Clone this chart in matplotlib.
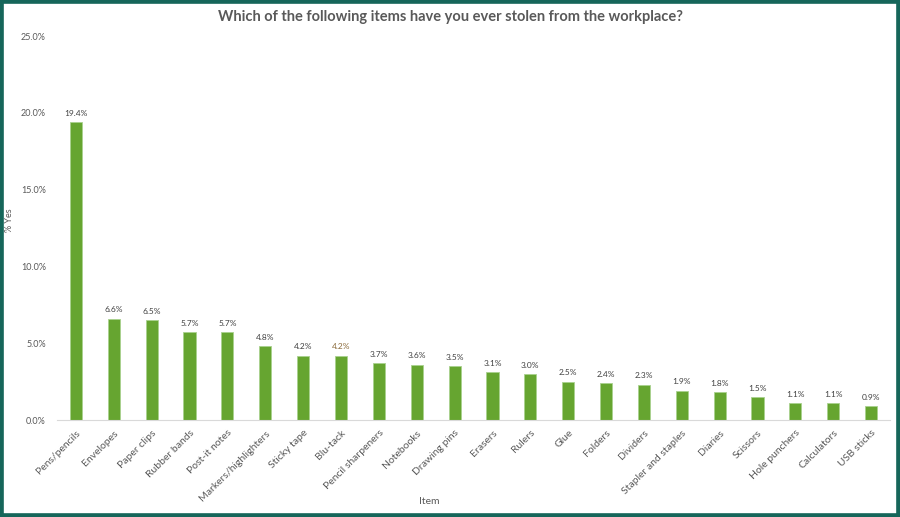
import matplotlib
matplotlib.use("Agg")
import matplotlib.pyplot as plt
from matplotlib.patches import Rectangle
from matplotlib.ticker import FuncFormatter

# survey data
items = ["Pens/pencils", "Envelopes", "Paper clips", "Rubber bands", "Post-it notes",
         "Markers/highlighters", "Sticky tape", "Blu-tack", "Pencil sharpeners",
         "Notebooks", "Drawing pins", "Erasers", "Rulers", "Glue", "Folders",
         "Dividers", "Stapler and staples", "Diaries", "Scissors", "Hole punchers",
         "Calculators", "USB sticks"]
pct_yes = [19.4, 6.6, 6.5, 5.7, 5.7, 4.8, 4.2, 4.2, 3.7, 3.6, 3.5, 3.1, 3.0,
           2.5, 2.4, 2.3, 1.9, 1.8, 1.5, 1.1, 1.1, 0.9]
yticks = [0, 5, 10, 15, 20, 25]

plt.rcParams['font.family'] = ['Lato', 'DejaVu Sans']
grey = '#595959'

fig = plt.figure(figsize=(9, 5.17), dpi=100)
ax = fig.add_axes([0.0633, 0.1876, 0.9257, 0.7424])

xs = range(len(items))
ax.bar(xs, pct_yes, width=0.32, color='#66a530', edgecolor='#a9d18e', linewidth=0.6)

for i, v in enumerate(pct_yes):
    col = '#8a6a3a' if items[i] == 'Blu-tack' else '#404040'
    ax.text(i, v + 0.35, f"{v:.1f}%", ha='center', va='bottom', fontsize=6, color=col)

ax.set_xlim(-0.5, len(items) - 0.5)
ax.set_ylim(0, 25)
ax.set_yticks(yticks)
ax.yaxis.set_major_formatter(FuncFormatter(lambda v, p: f"{v:.1f}%"))
ax.set_xticks(list(xs))
ax.set_xticklabels(items, rotation=45, ha='right', rotation_mode='anchor')
ax.tick_params(axis='both', length=0, labelsize=6.5, colors=grey)
ax.tick_params(axis='x', pad=6, labelsize=7.5)
ax.tick_params(axis='y', pad=8)

for s in ['top', 'right', 'left']:
    ax.spines[s].set_visible(False)
ax.spines['bottom'].set_color('#d9d9d9')

ax.set_xlabel("Item", fontsize=7.5, color=grey)
ax.xaxis.set_label_coords(0.447, -0.2)
ax.set_ylabel("% Yes", fontsize=6.5, color=grey)
ax.yaxis.set_label_coords(-0.052, 0.52)

fig.text(0.5, 0.967, "Which of the following items have you ever stolen from the workplace?",
         ha='center', va='center', fontsize=10.5, fontweight='bold', color=grey)

# dark green frame around the chart
fig.patches.append(Rectangle((0, 0), 1, 1, transform=fig.transFigure, fill=False,
                             edgecolor='#16665a', linewidth=5.5))

fig.savefig("out.png", dpi=100)
